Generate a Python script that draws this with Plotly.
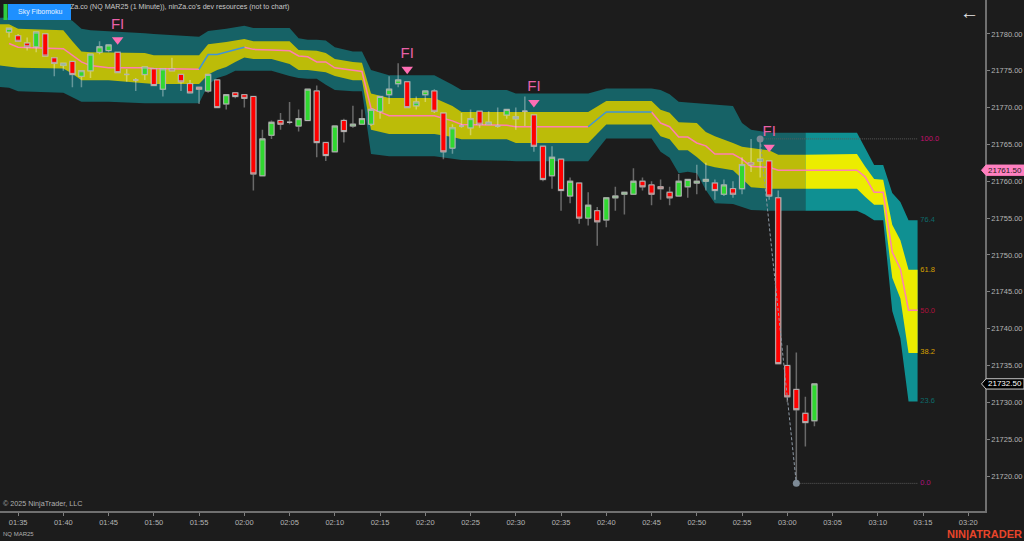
import pandas as pd
import plotly.graph_objects as go

DAY = "2025-01-15 "

# candles, one per minute from 01:34
opens = [21780.25, 21779.75, 21778.75, 21778.25, 21780, 21776.75, 21775.75, 21776.25, 21774.25, 21775,
         21777.5, 21777.75, 21777.5, 21774.5, 21773.75, 21774.5, 21775.25, 21772.5, 21775.25, 21774.5,
         21773.25, 21772.75, 21772.25, 21773.75, 21770.5, 21772, 21771.75, 21771.5, 21760.75, 21766.25,
         21768.25, 21768, 21767.5, 21768.25, 21772.25, 21765.25, 21764, 21768.25, 21767.5, 21767.75,
         21767.75, 21769.5, 21771.75, 21773.25, 21773.5, 21770.25, 21771.75, 21772.25, 21769.25, 21764.5,
         21767.5, 21767.25, 21769.5, 21767.75, 21767.5, 21769, 21768.5, 21769.5, 21769, 21764.75,
         21760.75, 21763, 21758, 21759.75, 21755, 21756, 21754.75, 21757.75, 21758.25, 21758.25,
         21760, 21759.5, 21759.25, 21758.5, 21758, 21759.25, 21759.75, 21760, 21759.75, 21758.25,
         21759, 21759, 21762.5, 21762.75, 21762.75, 21757.75, 21735, 21731.75, 21728.5, 21727.5]
highs = [21780.75, 21780, 21779.5, 21780.25, 21780, 21776.75, 21776, 21776.25, 21775, 21777.25,
         21779, 21778.5, 21777.5, 21775.25, 21774, 21775.5, 21775.25, 21775.25, 21776.75, 21774.5,
         21773.75, 21772.75, 21774.5, 21773.75, 21771.75, 21772, 21771.75, 21771.5, 21767, 21768.25,
         21769.25, 21770.75, 21769.75, 21772.5, 21773, 21765.25, 21767.5, 21768.5, 21770.25, 21769.75,
         21769.75, 21771.5, 21774.25, 21776, 21773.5, 21771.5, 21772.25, 21772.5, 21769.25, 21767.75,
         21769.25, 21769.75, 21769.5, 21769.5, 21770, 21769.75, 21770, 21771.5, 21769, 21764.75,
         21764.75, 21763, 21760.5, 21759.75, 21758.5, 21756.5, 21757.75, 21759.25, 21758.5, 21761.75,
         21760.5, 21760, 21760.25, 21759.25, 21761, 21760.25, 21762.25, 21762.5, 21760.25, 21760.25,
         21760, 21763.25, 21765.75, 21765.75, 21762.75, 21758.75, 21737.75, 21736.75, 21730.75, 21732.5]
lows = [21779.5, 21779, 21777.75, 21777.5, 21777, 21774.25, 21775, 21772.75, 21772.75, 21774,
        21777.25, 21777.5, 21774.75, 21773.5, 21772.25, 21773.75, 21773, 21771.5, 21775, 21772.25,
        21772, 21770.5, 21772, 21770, 21769.75, 21771.25, 21770, 21758.75, 21760.75, 21765.75,
        21767, 21767.75, 21766.75, 21768.25, 21763.25, 21762.75, 21764, 21765.25, 21767.25, 21767.75,
        21767.5, 21768.5, 21770.5, 21772.75, 21770, 21769.75, 21770.75, 21769.25, 21763, 21763.75,
        21767.25, 21766.25, 21767.25, 21767.75, 21767.25, 21768.5, 21767, 21767.5, 21764, 21760,
        21759, 21756, 21757, 21754.25, 21754, 21751.25, 21753.75, 21756, 21755.5, 21758.25,
        21758.75, 21756.75, 21757.5, 21756.75, 21758, 21757.75, 21758.25, 21758.75, 21757.5, 21758,
        21757.75, 21758.25, 21761.25, 21760.5, 21757.5, 21735.25, 21730, 21719.25, 21724, 21726.75]
closes = [21780.75, 21779, 21778.25, 21780.25, 21777, 21776, 21776, 21774.5, 21775, 21777.25,
          21778.25, 21778.5, 21774.75, 21774.5, 21773.75, 21775.5, 21773, 21775.25, 21775, 21773.5,
          21772, 21772.5, 21774.5, 21770, 21771.75, 21771.5, 21771.25, 21761, 21765.75, 21768,
          21767.75, 21768, 21768.5, 21772.5, 21765.25, 21763.5, 21767.5, 21766.75, 21767.75, 21768.5,
          21769.75, 21771.5, 21772.5, 21773.75, 21770, 21770.75, 21772.25, 21769.5, 21764, 21767.25,
          21767.5, 21768.5, 21767.75, 21768, 21767.5, 21769.75, 21768.75, 21769.5, 21764.75, 21760.25,
          21763.25, 21758.75, 21760, 21755, 21756.75, 21754.5, 21757.75, 21758, 21758.5, 21760,
          21759.25, 21758.25, 21759, 21757.75, 21760, 21760.25, 21760, 21760.25, 21758.75, 21759.5,
          21758.25, 21762.25, 21762.25, 21763, 21758, 21735.25, 21730.75, 21729, 21727.25, 21732.5]

# cloud vertices
band_times = ["01:33", "01:34", "01:35", "01:40", "01:41", "01:42", "01:43", "01:45", "01:49", "01:50",
              "01:55", "01:56", "01:57", "01:58", "01:59", "02:00", "02:01", "02:03", "02:05", "02:06",
              "02:07", "02:08", "02:09", "02:10", "02:12", "02:13", "02:14", "02:16", "02:21", "02:23",
              "02:24", "02:29", "02:30", "02:38", "02:40", "02:45", "02:46", "02:47", "02:48", "02:49",
              "02:50", "02:51", "02:52", "02:54", "02:55", "02:56", "02:58", "02:59", "03:02", "03:07:42",
              "03:08:36", "03:09:36", "03:10:36", "03:11:36", "03:12:30", "03:13:24", "03:14:24"]
outer_top = [21782.2, 21782.2, 21782.2, 21782.3, 21781.8, 21780.7, 21780.5, 21780.4, 21780.1, 21780.0,
             21779.6, 21780.4, 21780.5, 21780.7, 21780.9, 21781.1, 21780.8, 21780.8, 21780.8, 21779.4,
             21779.2, 21779.2, 21779.1, 21778.2, 21777.6, 21777.6, 21775.1, 21774.4, 21774.4, 21773.1,
             21772.4, 21772.4, 21771.9, 21771.9, 21772.6, 21772.6, 21772.4, 21771.8, 21770.8, 21770.7,
             21770.6, 21770.5, 21770.4, 21770.2, 21767.9, 21767.0, 21766.6, 21766.6, 21766.6, 21766.6,
             21764.5, 21762.2, 21762.2, 21758.4, 21757.2, 21754.7, 21754.7]
inner_top = [21781.3, 21781.3, 21780.7, 21780.5, 21779.0, 21777.6, 21777.5, 21777.5, 21777.4, 21777.1,
             21777.1, 21778.6, 21778.7, 21778.9, 21779.1, 21779.3, 21779.0, 21779.0, 21779.0, 21777.8,
             21777.8, 21777.7, 21777.4, 21776.6, 21776.2, 21776.1, 21771.9, 21771.3, 21771.3, 21770.2,
             21769.4, 21769.4, 21769.4, 21769.4, 21770.9, 21770.9, 21769.7, 21769.3, 21768.0, 21768.0,
             21767.9, 21766.7, 21766.1, 21765.2, 21764.7, 21764.5, 21764.2, 21763.6, 21763.6, 21763.7,
             21762.0, 21760.3, 21760.2, 21754.1, 21752.0, 21748.0, 21748.0]
mid_line = [None, 21778.7, 21778.2, 21778.0, 21777.1, 21776.2, 21775.7, 21775.4, 21775.4, 21775.3,
            21775.2, 21777.2, 21777.2, 21777.5, 21777.8, 21778.2, 21777.9, 21777.8, 21777.7, 21777.0,
            21776.9, 21776.2, 21776.2, 21775.4, 21775.0, 21774.9, 21769.9, 21768.9, 21768.9, 21768.2,
            21767.7, 21767.6, 21767.4, 21767.4, 21769.4, 21769.4, 21767.9, 21767.4, 21766.0, 21766.0,
            21765.2, 21764.8, 21763.7, 21763.7, 21763.0, 21762.0, 21761.9, 21761.5, 21761.5, 21761.5,
            21760.6, 21758.5, 21758.5, 21750.4, 21748.1, 21742.5, 21742.5]
inner_bottom = [21775.7, 21775.6, 21775.4, 21775.3, 21774.6, 21773.7, 21773.7, 21773.7, 21773.3, 21773.2,
                21773.2, 21774.5, 21775.1, 21775.5, 21776.2, 21776.8, 21776.6, 21776.6, 21775.9, 21775.1,
                21775.1, 21775.0, 21774.8, 21774.3, 21773.7, 21773.7, 21767.0, 21766.4, 21766.4, 21766.0,
                21765.7, 21765.7, 21765.2, 21765.2, 21767.7, 21767.7, 21766.1, 21765.7, 21764.2, 21764.2,
                21763.3, 21762.2, 21761.9, 21761.5, 21760.4, 21759.2, 21759.0, 21759.0, 21759.0, 21759.0,
                21757.9, 21756.8, 21756.8, 21746.9, 21744.1, 21736.7, 21736.7]
outer_bottom = [21772.8, 21772.7, 21772.2, 21772.0, 21771.4, 21770.8, 21770.8, 21770.8, 21770.6, 21770.6,
                21770.6, 21773.1, 21774.0, 21774.4, 21775.0, 21775.0, 21775.0, 21775.0, 21774.3, 21774.0,
                21773.9, 21773.9, 21773.1, 21772.4, 21772.2, 21772.2, 21763.7, 21763.4, 21763.4, 21763.1,
                21762.9, 21762.8, 21762.7, 21762.7, 21765.8, 21765.8, 21764.0, 21763.2, 21761.1, 21761.3,
                21761.1, 21758.8, 21757.0, 21756.9, 21756.5, 21756.1, 21756.0, 21756.0, 21756.0, 21756.0,
                21755.5, 21754.7, 21754.7, 21742.4, 21738.7, 21730.1, 21730.1]
blue_spans = [("01:55", "02:00"), ("02:38", "02:45")]

# FI signals
fi_times = ["01:46", "02:18", "02:32", "02:58"]
fi_prices = [21779.2, 21775.2, 21770.7, 21764.6]

# fib drawing
fib_high = 21765.75
fib_low = 21719.0
fib_high_time = "02:57"
fib_low_time = "03:01"
fib_end = "03:14:24"
fib_label_time = "03:14:42"
fib_levels = ["100.0", "76.4", "61.8", "50.0", "38.2", "23.6", "0.0"]
fib_prices = [21765.75, 21754.7, 21747.9, 21742.4, 21736.8, 21730.1, 21719.0]
fib_colors = ["#c2106e", "#0d6a6a", "#d8a000", "#b0103c", "#d8a000", "#0d6a6a", "#b0107c"]

last_close = 21732.5
cloud_mid_price = 21761.5

BG = "#1c1c1c"
PLOT_W, PLOT_H = 985, 511
YRANGE = [21715.25, 21784.6]


def t(s):
    return DAY + s if len(s) > 5 else DAY + s + ":00"


def px(x):
    return x / PLOT_W


def py(y):
    return 1 - y / PLOT_H


bt = [t(s) for s in band_times]
split = band_times.index("03:02")
candle_x = pd.date_range(DAY + "01:34", periods=len(opens), freq="min")

fig = go.Figure()


def add_band(start, stop, top, bottom, color):
    fig.add_trace(go.Scatter(x=bt[start:stop], y=top[start:stop], mode="lines",
                             line=dict(width=0), hoverinfo="skip", showlegend=False))
    fig.add_trace(go.Scatter(x=bt[start:stop], y=bottom[start:stop], mode="lines",
                             line=dict(width=0), fill="tonexty", fillcolor=color,
                             hoverinfo="skip", showlegend=False))


add_band(0, split + 1, outer_top, outer_bottom, "#166266")
add_band(0, split + 1, inner_top, inner_bottom, "#bcbc08")
add_band(split, len(bt), outer_top, outer_bottom, "#0f9092")
add_band(split, len(bt), inner_top, inner_bottom, "#ecec00")

# kijun style line, blue where it is rising
spans = [(band_times.index(a), band_times.index(b)) for a, b in blue_spans]
pink, blue = [], []
for i, v in enumerate(mid_line):
    in_span = any(a <= i <= b for a, b in spans)
    inside = any(a < i < b for a, b in spans)
    blue.append(v if in_span else None)
    pink.append(None if inside else v)
fig.add_trace(go.Scatter(x=bt, y=pink, mode="lines", line=dict(color="#ff7fb0", width=1.5),
                         hoverinfo="skip", showlegend=False))
fig.add_trace(go.Scatter(x=bt, y=blue, mode="lines", line=dict(color="#3f93d8", width=1.5),
                         hoverinfo="skip", showlegend=False))

# everything below goes on the overlay axis, candlesticks would sit under the cloud otherwise
wick = "rgba(255,255,255,0.34)"
fig.add_trace(go.Candlestick(x=candle_x, open=opens, high=highs, low=lows, close=closes, yaxis="y2",
                             increasing=dict(fillcolor="rgba(0,0,0,0)", line=dict(color=wick, width=1.5)),
                             decreasing=dict(fillcolor="rgba(0,0,0,0)", line=dict(color=wick, width=1.5)),
                             hoverinfo="skip", showlegend=False))
body_hi = [max(o, c) for o, c in zip(opens, closes)]
body_lo = [min(o, c) for o, c in zip(opens, closes)]
fig.add_trace(go.Candlestick(x=candle_x, open=opens, high=body_hi, low=body_lo, close=closes, yaxis="y2",
                             increasing=dict(fillcolor="#30d830", line=dict(color="#b4b4b4", width=1)),
                             decreasing=dict(fillcolor="#ff0000", line=dict(color="#b4b4b4", width=1)),
                             hoverinfo="skip", showlegend=False))

# FI triangles
fig.add_trace(go.Scatter(x=[t(s) for s in fi_times], y=fi_prices, mode="markers+text", text=["FI"] * 4,
                         yaxis="y2", textposition="top center",
                         textfont=dict(color="#e860a8", size=15, family="Liberation Sans"),
                         marker=dict(symbol="triangle-down", size=10, color="#ff6eb4", line=dict(width=0)),
                         hoverinfo="skip", showlegend=False))

# fib lines
fig.add_trace(go.Scatter(x=[t(fib_high_time), t(fib_end)], y=[fib_high, fib_high], mode="lines", yaxis="y2",
                         line=dict(color="#5a5a5a", width=1, dash="1px,1px"), hoverinfo="skip", showlegend=False))
fig.add_trace(go.Scatter(x=[t(fib_low_time), t(fib_end)], y=[fib_low, fib_low], mode="lines", yaxis="y2",
                         line=dict(color="#5a5a5a", width=1, dash="1px,1px"), hoverinfo="skip", showlegend=False))
fig.add_trace(go.Scatter(x=[t(fib_high_time), t(fib_low_time)], y=[fib_high, fib_low], mode="lines+markers",
                         yaxis="y2", line=dict(color="#8c98a4", width=1, dash="3px,2px"),
                         marker=dict(size=7, color="#7d8a96"), hoverinfo="skip", showlegend=False))
fig.add_trace(go.Scatter(x=[t(fib_label_time)] * len(fib_levels), y=fib_prices, mode="text", text=fib_levels,
                         yaxis="y2", textposition="middle right",
                         textfont=dict(color=fib_colors, size=7.5, family="Liberation Sans"),
                         hoverinfo="skip", showlegend=False))

shapes = [
    dict(type="rect", xref="paper", yref="paper", x0=px(3.5), x1=px(7.5), y0=py(20), y1=py(4),
         fillcolor="#2ecc40", line=dict(width=0)),
    dict(type="rect", xref="paper", yref="paper", x0=px(8), x1=px(71), y0=py(20), y1=py(4),
         fillcolor="#1e90ff", line=dict(width=0)),
]
for price, fill, edge in [(cloud_mid_price, "#ff80c0", "#ff80c0"), (last_close, "#000000", "#c8c8c8")]:
    a, b, c = px(981.5), px(986), px(1024)
    shapes.append(dict(type="path", xref="paper", yref="y",
                       path=f"M {a} {price} L {b} {price + 0.7} L {c} {price + 0.7} "
                            f"L {c} {price - 0.7} L {b} {price - 0.7} Z",
                       fillcolor=fill, line=dict(color=edge, width=1)))

font = "Liberation Sans"
annotations = [
    dict(x=px(68), y=py(7), text="Za.co (NQ MAR25 (1 Minute)), ninZa.co's dev resources (not to chart)",
         color="#c8c8c8", size=7.1, xanchor="left"),
    dict(x=px(39.5), y=py(12), text="Sky Fibomoku", color="#e8f2ff", size=7, xanchor="center"),
    dict(x=px(1), y=py(503), text="© 2025 NinjaTrader, LLC", color="#b0b0b0", size=7.2, xanchor="left"),
    dict(x=px(1), y=py(534), text="NQ MAR25", color="#b0b0b0", size=6, xanchor="left"),
    dict(x=px(1024), y=py(534), text="<b>NIN|ATRADER</b>", color="#e8452a", size=11, xanchor="right"),
    dict(x=px(969), y=py(13), text="←", color="#e6e6e6", size=19, xanchor="center"),
]
ann = [dict(xref="paper", yref="paper", x=a["x"], y=a["y"], text=a["text"], showarrow=False,
            xanchor=a["xanchor"], yanchor="middle", font=dict(color=a["color"], size=a["size"], family=font))
       for a in annotations]
ann.append(dict(xref="paper", yref="y", x=px(1005), y=cloud_mid_price, text=f"{cloud_mid_price:.2f}", showarrow=False,
                font=dict(color="#1a1a1a", size=8, family=font), xanchor="center", yanchor="middle"))
ann.append(dict(xref="paper", yref="y", x=px(1005), y=last_close, text=f"{last_close:.2f}", showarrow=False,
                font=dict(color="#ffffff", size=8, family=font), xanchor="center", yanchor="middle"))

fig.update_layout(
    width=1024, height=541, autosize=False,
    margin=dict(l=0, r=39, t=0, b=30),
    paper_bgcolor=BG, plot_bgcolor=BG,
    showlegend=False, boxgap=0.2,
    shapes=shapes, annotations=ann,
    font=dict(family=font),
    xaxis=dict(type="date", range=[DAY + "01:33:00", DAY + "03:21:51"], rangeslider=dict(visible=False),
               dtick=300000, tick0=DAY + "01:35:00", tickformat="%H:%M", showgrid=False, zeroline=False,
               showline=True, linecolor="#707070", linewidth=1.5,
               ticks="outside", ticklen=3, tickcolor="#808080",
               tickfont=dict(color="#b4b4b4", size=7.5, family=font)),
    yaxis=dict(side="right", range=YRANGE, dtick=5, tick0=21720, tickformat=".2f",
               showgrid=False, zeroline=False, showline=True, linecolor="#707070", linewidth=1.5,
               ticks="outside", ticklen=3, tickcolor="#808080",
               tickfont=dict(color="#b4b4b4", size=7.5, family=font)),
    yaxis2=dict(overlaying="y", side="right", range=YRANGE, visible=False),
)

fig.write_html("out.html", config={"displayModeBar": False}, post_script="document.body.style.margin='0';")
